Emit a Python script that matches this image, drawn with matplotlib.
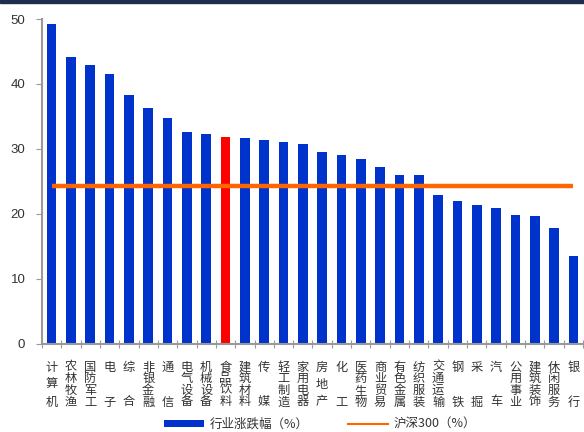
import matplotlib
matplotlib.use('Agg')
import matplotlib.pyplot as plt
import matplotlib.transforms as transforms
from matplotlib.patches import Patch
from matplotlib.lines import Line2D
import numpy as np

# industry names and their returns (%)
industries = ["计算机", "农林牧渔", "国防军工", "电子", "综合", "非银金融", "通信",
              "电气设备", "机械设备", "食品饮料", "建筑材料", "传媒", "轻工制造", "家用电器",
              "房地产", "化工", "医药生物", "商业贸易", "有色金属", "纺织服装", "交通运输",
              "钢铁", "采掘", "汽车", "公用事业", "建筑装饰", "休闲服务", "银行"]
returns = [49.2, 44.1, 42.9, 41.5, 38.3, 36.3, 34.7, 32.6, 32.3, 31.8, 31.7, 31.4, 31.0, 30.7,
           29.5, 29.0, 28.4, 27.2, 25.9, 25.9, 22.9, 22.0, 21.3, 20.9, 19.8, 19.6, 17.8, 13.5]
hs300 = 24.3
highlight = "食品饮料"
yticks = [0, 10, 20, 30, 40, 50]

blue = '#0033CC'
red = '#FF0000'
orange = '#FF6600'
grey = '#999999'
txt = '#333333'
cjk = ['Noto Sans CJK SC', 'DejaVu Sans']

fig = plt.figure(figsize=(5.84, 4.32), dpi=100)
ax = fig.add_axes([42/584, 1-343.5/432, 541/584, (343.5-19)/432])

x = np.arange(len(industries))
colors = [red if n == highlight else blue for n in industries]
ax.bar(x, returns, width=0.5, color=colors, zorder=2)
ax.plot(x, [hs300]*len(x), color=orange, lw=3.2, zorder=3, solid_capstyle='butt')

ax.set_xlim(-0.5, len(x)-0.5)
ax.set_ylim(0, 50)
ax.set_yticks(yticks)
ax.set_yticklabels([str(v) for v in yticks], family='Liberation Sans', fontsize=9.5, color=txt)
ax.tick_params(axis='y', direction='out', length=4, color=grey, pad=8)

# ticks between categories cross the axis, short ticks at the bar centres
ax.set_xticks(np.arange(len(x)+1)-0.5)
ax.set_xticklabels([])
ax.tick_params(axis='x', which='major', direction='inout', length=6, color=grey)
ax.set_xticks(x, minor=True)
ax.tick_params(axis='x', which='minor', direction='in', length=3, color=grey)

for s in ['top', 'right']:
    ax.spines[s].set_visible(False)
for s in ['left', 'bottom']:
    ax.spines[s].set_color(grey)
    ax.spines[s].set_linewidth(1.5)

# vertical category labels, characters spread over a fixed height
trans = transforms.blended_transform_factory(ax.transData, fig.transFigure)
y_top = 1 - 367/432
y_bot = 1 - 402/432
for i, name in enumerate(industries):
    n = len(name)
    for j, ch in enumerate(name):
        yy = y_top - j*(y_top-y_bot)/(n-1) if n > 1 else y_top
        ax.text(i, yy, ch, transform=trans, ha='center', va='center',
                family=cjk, fontsize=8.8, color=txt, clip_on=False)

handles = [Patch(facecolor=blue, edgecolor='none'),
           Line2D([0], [0], color=orange, lw=1.5)]
fig.legend(handles, ["行业涨跌幅（%）", "沪深300（%）"], ncol=2, frameon=False,
           loc='center', bbox_to_anchor=(0.548, 1-424/432), prop={'family': cjk, 'size': 9},
           labelcolor=txt, handlelength=3.2, handleheight=0.5, handletextpad=0.4,
           columnspacing=3.2, borderpad=0)

# dark band along the top edge
fig.patches.append(plt.Rectangle((0, 1-3/432), 1, 3/432, transform=fig.transFigure,
                                 color='#1F2D4F', zorder=0))

fig.savefig('out.png', dpi=100)
